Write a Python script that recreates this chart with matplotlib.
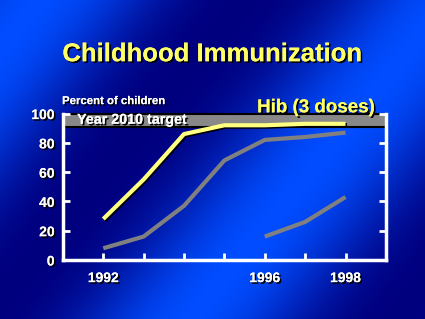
import numpy as np
import matplotlib
matplotlib.use("Agg")
import matplotlib.pyplot as plt
import matplotlib.patheffects as pe
from matplotlib.patches import Rectangle

years_a = [1992, 1993, 1994, 1995, 1996, 1997, 1998]
hib_a = [28, 55, 86, 92, 92, 93, 93]
years_b = [1992, 1993, 1994, 1995, 1996, 1997, 1998]
series_b = [8, 16, 37, 68, 82, 84, 87]
years_c = [1996, 1997, 1998]
series_c = [16, 26, 43]
target_low, target_high = 91, 100
xticks = [1992, 1993, 1994, 1995, 1996, 1997, 1998]
xlabels = ["1992", "", "", "", "1996", "", "1998"]
yticks = [0, 20, 40, 60, 80, 100]

plt.rcParams['font.family'] = ['Liberation Sans', 'DejaVu Sans']
fig = plt.figure(figsize=(4.25, 3.19), dpi=100)

# background gradient
bg = fig.add_axes([0, 0, 1, 1])
bg.set_axis_off()
h, w = 319, 425
yy, xx = np.mgrid[0:h, 0:w]
u = xx / w
v = yy / h
t = 0.5 + 0.5 * np.cos(2 * np.pi * (0.9 * u + 0.55 * v) * 1.15 - 0.6)
t = np.clip(t, 0, 1) ** 1.3
dark = np.array([0.0, 0.0, 0.50])
light = np.array([0.0, 0.30, 1.0])
img = dark[None, None, :] * (1 - t[..., None]) + light[None, None, :] * t[..., None]
bg.imshow(img, extent=[0, 1, 0, 1], aspect='auto', origin='upper')
bg.set_xlim(0, 1)
bg.set_ylim(0, 1)

shadow_txt = [pe.withSimplePatchShadow(offset=(1.2, -1.2), shadow_rgbFace='black', alpha=1.0), pe.Normal()]

fig.text(0.5, 0.83, "Childhood Immunization", color='#ffff66', fontsize=18.5, fontweight='bold',
         ha='center', va='center', path_effects=shadow_txt)

ax = fig.add_axes([0.148, 0.185, 0.760, 0.459])
ax.patch.set_alpha(0)
ax.set_xlim(1991, 1999)
ax.set_ylim(0, 100)

ax.add_patch(Rectangle((1991, target_low), 8, target_high - target_low, facecolor='#888888',
                       edgecolor='black', linewidth=1.5, zorder=1, clip_on=False))
ax.text(1991.35, (target_low + target_high) / 2 + 0.3, "Year 2010 target", color='white', fontsize=10.3,
        fontweight='bold', va='center', ha='left', path_effects=shadow_txt, zorder=2)

line_shadow = [pe.SimpleLineShadow(offset=(1, -1), shadow_color='black', alpha=1.0), pe.Normal()]
ax.plot(years_b, series_b, color='#808080', lw=3, zorder=3, solid_capstyle='butt')
ax.plot(years_c, series_c, color='#808080', lw=3, zorder=3, solid_capstyle='butt')
ax.plot(years_a, hib_a, color='#ffff80', lw=3, zorder=4, path_effects=line_shadow, solid_capstyle='butt')

for s in ['left', 'bottom', 'right']:
    ax.spines[s].set_color('white')
    ax.spines[s].set_linewidth(2.5)
ax.spines['top'].set_visible(False)

ax.set_xticks(xticks)
ax.set_xticklabels(xlabels)
ax.set_yticks(yticks)
ax.tick_params(axis='both', direction='in', colors='white', width=2, length=5,
               labelsize=10)
ax.tick_params(axis='y', right=True, pad=6)
ax.tick_params(axis='x', pad=8)
for lab in ax.get_xticklabels() + ax.get_yticklabels():
    lab.set_fontweight('bold')
    lab.set_path_effects(shadow_txt)

fig.text(0.146, 0.683, "Percent of children", color='white', fontsize=8.2, fontweight='bold',
         ha='left', va='center', path_effects=shadow_txt)
fig.text(0.605, 0.662, "Hib (3 doses)", color='#ffff66', fontsize=13.5, fontweight='bold',
         ha='left', va='center', path_effects=shadow_txt, zorder=10)

fig.savefig("out.png", dpi=100)
